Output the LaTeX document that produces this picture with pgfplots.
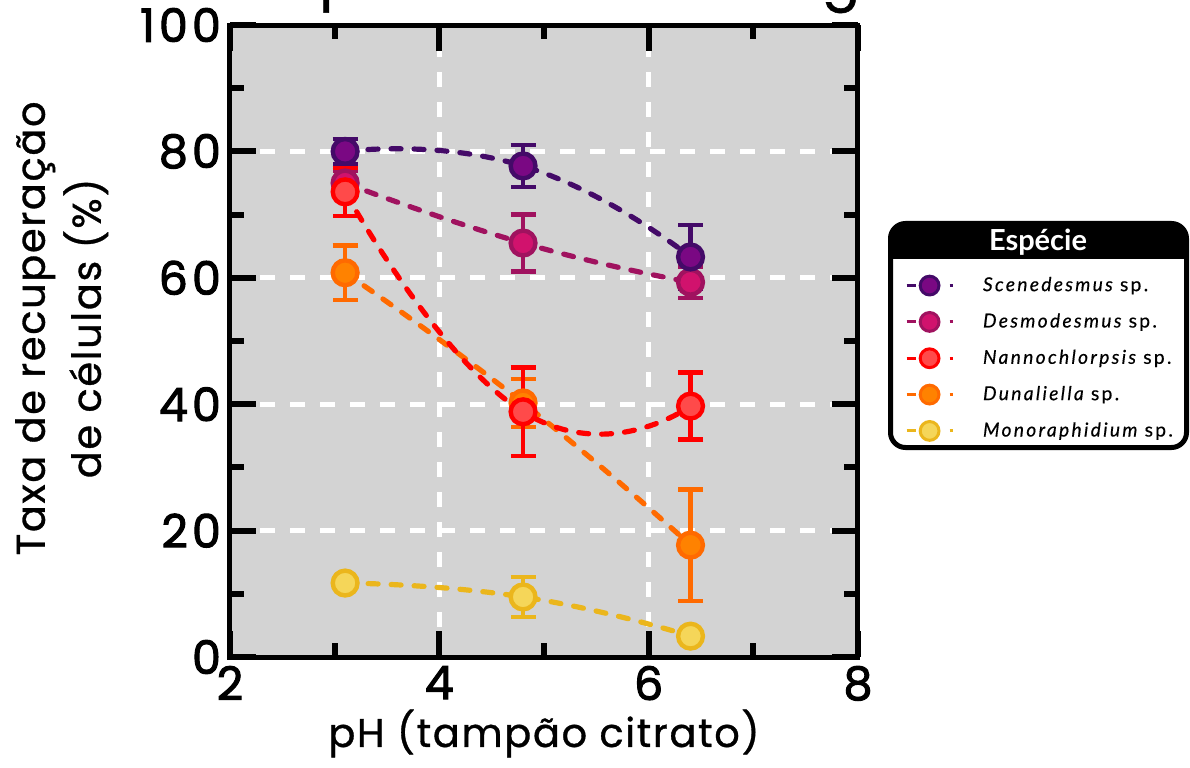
\documentclass[border=0pt]{standalone}
\usepackage{pgfplots}
\pgfplotsset{compat=1.18}
\usepackage{pgfplotstable}
\usepackage{fontspec}
\setmainfont{Poppins}
\newfontfamily\tickfont[FakeBold=2.2, LetterSpace=9]{Poppins}
\newfontfamily\labfont[LetterSpace=4, FakeBold=0.8]{Poppins}
\newfontfamily\legfont[LetterSpace=12, FakeBold=0.4]{Lato}
\newfontfamily\headfont{Lato}
\newfontfamily\titlefont[FakeBold=1]{Poppins}

\definecolor{bg}{HTML}{D3D3D3}
\definecolor{scE}{HTML}{440A68}\definecolor{scF}{HTML}{7A0883}
\definecolor{deE}{HTML}{A0125F}\definecolor{deF}{HTML}{D1126D}
\definecolor{naE}{HTML}{FF0000}\definecolor{naF}{HTML}{FF4A4A}
\definecolor{duE}{HTML}{FF6A00}\definecolor{duF}{HTML}{FF8200}
\definecolor{moE}{HTML}{EBB61C}\definecolor{moF}{HTML}{F5D659}

\pgfplotstableread{
x y e
3.1 80.0 2.0
4.8 77.7 3.3
6.4 63.3 5.1
}\scen
\pgfplotstableread{
x y e
3.1 75.0 2.0
4.8 65.5 4.5
6.4 59.3 2.5
}\desmo
\pgfplotstableread{
x y e
3.1 73.6 3.8
4.8 38.8 7.0
6.4 39.7 5.3
}\nanno
\pgfplotstableread{
x y e
3.1 60.8 4.3
4.8 40.2 3.8
6.4 17.7 8.8
}\duna
\pgfplotstableread{
x y e
3.1 11.7 0.8
4.8 9.5 3.2
6.4 3.3 0.5
}\mono

\pgfplotsset{
  dline/.style={forget plot, smooth, tension=0.9, line width=2.6pt, line cap=round, dash pattern=on 5pt off 6.5pt},
  ebar/.style={forget plot, draw=none, mark=none,
    error bars/.cd, y dir=both, y explicit,
    error bar style={draw=#1, line width=2.2pt, solid},
    error mark options={rotate=90, draw=#1, line width=2.2pt, mark size=6.25pt, solid}},
  pts/.style 2 args={forget plot, only marks, mark=*, mark size=6.2pt,
    mark options={draw=#1, fill=#2, line width=2.2pt, solid}},
  limg/.style 2 args={legend image code/.code={
    \draw[#1, line width=1.5pt] (0pt,0pt) -- (4.5pt,0pt);
    \draw[#1, line width=1.5pt] (21.5pt,0pt) -- (23pt,0pt);
    \draw[draw=#1, fill=#2, line width=1.5pt] (11.5pt,0pt) circle (4.7pt);
    \path (36pt,0pt);
  }},
}

\begin{document}
\begin{tikzpicture}
% legend box
\begin{scope}
\clip[rounded corners=7.5pt] (330.25pt,104.75pt) rectangle (478.25pt,216.75pt);
\fill[white] (330.25pt,104.75pt) rectangle (478.25pt,216.75pt);
\fill[black] (329pt,199pt) rectangle (480pt,218pt);
\end{scope}
\draw[line width=2.5pt, rounded corners=7.5pt] (330.25pt,104.75pt) rectangle (478.25pt,216.75pt);
\node[white, font=\headfont\bfseries\fontsize{14.5}{14.5}\selectfont] at (404pt,207.5pt) {Espécie};

\begin{axis}[
  scale only axis, width=314pt, height=316pt,
  at={(0pt,0pt)}, anchor=south west,
  xmin=2, xmax=8, ymin=0, ymax=100,
  xtick={2,4,6,8}, ytick={0,20,...,100},
  minor xtick={3,5,7}, minor ytick={10,30,50,70,90},
  tick align=inside,
  major tick length=13pt, minor tick length=7pt,
  tick style={black, line width=3pt},
  grid=major,
  major grid style={white, line width=2.5pt, dash pattern=on 7.5pt off 7.5pt},
  axis line style={line width=2.5pt},
  axis background/.style={fill=bg},
  /pgf/number format/assume math mode=true,
  ticklabel style={font=\tickfont\fontsize{23}{23}\selectfont},
  yticklabel style={xshift=-1pt},
  xticklabel style={yshift=-1pt},
  xlabel={pH (tampão citrato)},
  xlabel style={font=\labfont\fontsize{20}{20}\selectfont, at={(axis description cs:0.5,-0.121)}, anchor=center},
  ylabel={Taxa de recuperação\\de células (\%)},
  ylabel style={align=center, font=\labfont\fontsize{20}{28}\selectfont, at={(axis description cs:-0.268,0.52)}, anchor=center},
  legend style={draw=none, fill=none, inner sep=0pt, outer sep=0pt,
    at={(rel axis cs:1.075,0.6076)}, anchor=north west,
    row sep=5.6pt,
    font=\legfont\fontsize{9.6}{9.6}\selectfont},
  legend cell align=left,
]
% smoothed dashed lines
\addplot[dline, moE] table[x=x,y=y] {\mono};
\addplot[dline, duE] table[x=x,y=y] {\duna};
\addplot[dline, deE] table[x=x,y=y] {\desmo};
\addplot[dline, scE] table[x=x,y=y] {\scen};
\addplot[dline, naE] table[x=x,y=y] {\nanno};
% error bars and points
\addplot[ebar=moE] table[x=x,y=y,y error=e] {\mono};
\addplot[pts={moE}{moF}] table[x=x,y=y] {\mono};
\addplot[ebar=duE] table[x=x,y=y,y error=e] {\duna};
\addplot[pts={duE}{duF}] table[x=x,y=y] {\duna};
\addplot[ebar=deE] table[x=x,y=y,y error=e] {\desmo};
\addplot[pts={deE}{deF}] table[x=x,y=y] {\desmo};
\addplot[ebar=scE] table[x=x,y=y,y error=e] {\scen};
\addplot[pts={scE}{scF}] table[x=x,y=y] {\scen};
\addplot[ebar=naE] table[x=x,y=y,y error=e] {\nanno};
\addplot[pts={naE}{naF}] table[x=x,y=y] {\nanno};
% legend
\addlegendimage{limg={scE}{scF}}
\addlegendentry{{\itshape Scenedesmus} sp.}
\addlegendimage{limg={deE}{deF}}
\addlegendentry{{\itshape Desmodesmus} sp.}
\addlegendimage{limg={naE}{naF}}
\addlegendentry{{\itshape Nannochlorpsis} sp.}
\addlegendimage{limg={duE}{duF}}
\addlegendentry{{\itshape Dunaliella} sp.}
\addlegendimage{limg={moE}{moF}}
\addlegendentry{{\itshape Monoraphidium} sp.}
\end{axis}

% clipped title descenders
\begin{scope}
\clip (-115pt,-55pt) rectangle (480pt,328.5pt);
\node[anchor=base west, inner sep=0pt, font=\titlefont\fontsize{28}{28}\selectfont] at (44.5pt,329.5pt) {p};
\node[anchor=base, inner sep=0pt, font=\titlefont\fontsize{28}{28}\selectfont] at (305.5pt,329.5pt) {g};
\end{scope}
\pgfresetboundingbox
\path (-115pt,-55pt) rectangle (480pt,328.5pt);
\end{tikzpicture}
\end{document}
